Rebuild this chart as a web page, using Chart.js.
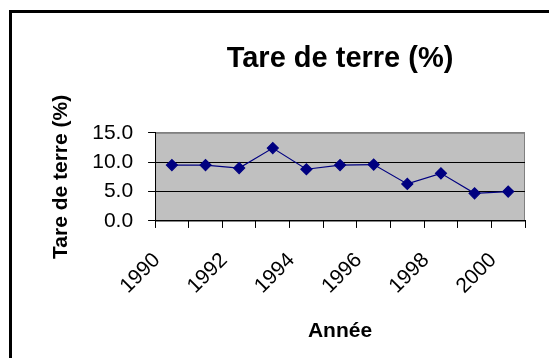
<!DOCTYPE html>
<html>
<head>
<meta charset="utf-8">
<script src="https://cdn.jsdelivr.net/npm/chart.js@4/dist/chart.umd.min.js"></script>
<style>
  body { margin: 0; background: #fff; }
  #cadre { position: absolute; left: 9px; top: 10px; width: 600px; height: 400px;
           border-left: 3px solid #000; border-top: 3px solid #000; }
  #zone { position: absolute; left: 0; top: 0; width: 549px; height: 358px; }
</style>
</head>
<body>
<div id="cadre"></div>
<div id="zone"><canvas id="myChart" width="549" height="358"></canvas></div>
<script>
// années et tare de terre (%)
const annees = ['1990','1991','1992','1993','1994','1995','1996','1997','1998','1999','2000'];
const tare = [9.5, 9.5, 9.0, 12.4, 8.8, 9.5, 9.6, 6.3, 8.1, 4.7, 5.0];
const graduations = [0, 5, 10, 15];

const police = "'Liberation Sans', Arial, sans-serif";

// fond gris de la zone de traçage
const fondGris = {
	id: 'fondGris',
	beforeDraw(chart) {
		const a = chart.chartArea;
		const ctx = chart.ctx;
		ctx.save();
		ctx.fillStyle = '#c0c0c0';
		ctx.fillRect(a.left, a.top, a.right - a.left, a.bottom - a.top);
		ctx.strokeStyle = '#808080';
		ctx.lineWidth = 1;
		ctx.strokeRect(a.left + 0.5, a.top + 0.5, a.right - a.left - 1, a.bottom - a.top);
		ctx.restore();
	}
};

Chart.defaults.color = '#000';
Chart.defaults.font.family = police;

new Chart('myChart', {
	type: 'line',
	data: {
		labels: annees,
		datasets: [{
			label: 'Tare de terre (%)',
			data: tare,
			borderColor: '#000080',
			backgroundColor: '#000080',
			borderWidth: 1.2,
			pointStyle: 'rectRot',
			pointRadius: 5.5,
			pointBackgroundColor: '#000080',
			pointBorderColor: '#000080',
			tension: 0
		}]
	},
	options: {
		responsive: false,
		animation: false,
		layout: { padding: { left: 40, right: 24, top: 30, bottom: 0 } },
		plugins: {
			legend: { display: false },
			tooltip: { enabled: false },
			title: {
				display: true,
				text: 'Tare de terre (%)',
				fullSize: false,
				font: { size: 29, weight: 'bold' },
				padding: { top: 12, bottom: 56 }
			}
		},
		scales: {
			x: {
				offset: true,
				grid: { offset: true, drawOnChartArea: false, drawTicks: true, tickLength: 7, color: '#000' },
				border: { color: '#000', width: 1 },
				ticks: {
					autoSkip: false,
					minRotation: 45,
					maxRotation: 45,
					padding: 20,
					labelOffset: -15,
					font: { size: 21 },
					callback: function(v, i) { return i % 2 === 0 ? annees[i] : ''; }
				},
				title: {
					display: true,
					text: 'Année',
					font: { size: 21, weight: 'bold' },
					padding: { top: 0, bottom: 14 }
				}
			},
			y: {
				min: 0,
				max: 15,
				afterBuildTicks: function(axis) {
					axis.ticks = graduations.map(function(v) { return { value: v }; });
				},
				grid: {
					color: function(c) { return c.tick && c.tick.value === 15 ? '#808080' : '#000'; },
					tickColor: '#000',
					tickLength: 7
				},
				border: { color: '#000', width: 1 },
				ticks: {
					autoSkip: false,
					padding: 15,
					font: { size: 21 },
					callback: function(v) { return Number(v).toFixed(1); }
				},
				title: {
					display: true,
					text: 'Tare de terre (%)',
					font: { size: 21, weight: 'bold' },
					padding: { top: 9, bottom: 3 }
				}
			}
		}
	},
	plugins: [fondGris]
});
</script>
</body>
</html>
